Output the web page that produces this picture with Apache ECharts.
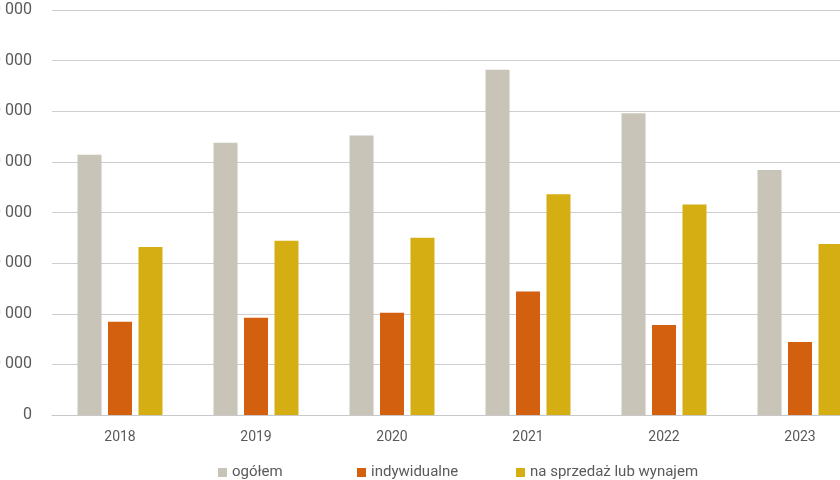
<!DOCTYPE html>
<html lang="pl">
<head>
<meta charset="UTF-8">
<script src="https://cdn.jsdelivr.net/npm/echarts@6/dist/echarts.min.js"></script>
<title>Mieszkania</title>
</head>
<body style="margin:0">
<div id="main" style="width:840px;height:480px;"></div>
<script>
var years = ['2018', '2019', '2020', '2021', '2022', '2023'];
var ogolem = [257000, 269000, 276000, 341000, 298000, 242000];
var indywidualne = [92000, 96000, 101000, 122000, 89000, 72000];
var naSprzedaz = [166000, 172000, 175000, 218000, 208000, 169000];

var names = ['ogółem', 'indywidualne', 'na sprzedaż lub wynajem'];
var colors = ['#c8c4b7', '#d2600f', '#d5ae14'];
var legendLeft = [218, 357, 516];

function fmt(v) {
    return String(v).replace(/\B(?=(\d{3})+(?!\d))/g, ' ');
}

var chart = echarts.init(document.getElementById('main'));

var series = [ogolem, indywidualne, naSprzedaz].map(function (d, i) {
    return {
        name: names[i],
        type: 'bar',
        data: d,
        barWidth: 24,
        barGap: '27%',
        itemStyle: { color: colors[i] }
    };
});

chart.setOption({
    animation: false,
    textStyle: { fontFamily: 'Roboto, sans-serif' },
    grid: {
        left: 52,
        top: 10,
        width: 816,
        height: 405,
        containLabel: false,
        outerBoundsMode: 'none'
    },
    legend: names.map(function (n, i) {
        return {
            data: [n],
            left: legendLeft[i],
            top: 465,
            padding: 0,
            itemWidth: 9,
            itemHeight: 9,
            itemGap: 8,
            icon: 'rect',
            textStyle: { color: '#5a5a5a', fontSize: 15, fontFamily: 'Roboto, sans-serif' }
        };
    }),
    xAxis: {
        type: 'category',
        data: years,
        axisTick: { show: false },
        axisLine: { lineStyle: { color: '#c8c8c8' } },
        axisLabel: { color: '#5a5a5a', fontSize: 14, margin: 15 }
    },
    yAxis: {
        type: 'value',
        min: 0,
        max: 400000,
        interval: 50000,
        axisLabel: {
            color: '#5a5a5a',
            fontSize: 16,
            margin: 20,
            formatter: fmt
        },
        splitLine: { lineStyle: { color: '#cfcfcf' } }
    },
    series: series
});
</script>
</body>
</html>
